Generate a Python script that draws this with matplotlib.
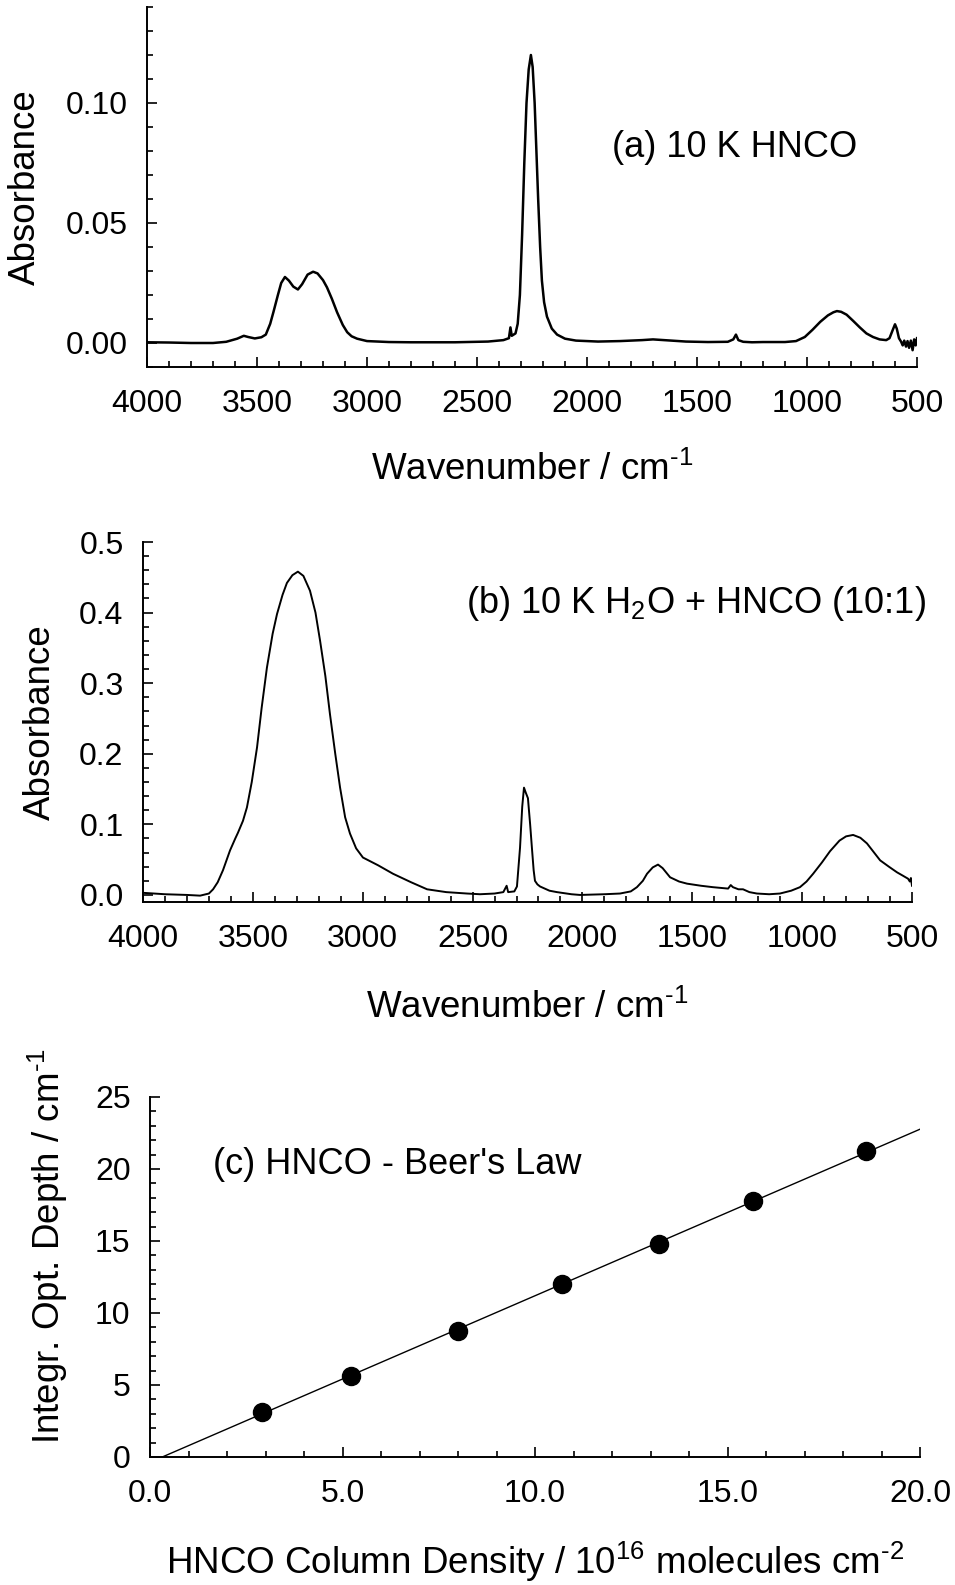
import numpy as np
import matplotlib
matplotlib.use("Agg")
import matplotlib.pyplot as plt
from matplotlib.ticker import MultipleLocator, FormatStrFormatter

plt.rcParams['font.family'] = ['Liberation Sans', 'DejaVu Sans']
plt.rcParams['mathtext.fontset'] = 'custom'
plt.rcParams['mathtext.rm'] = 'Liberation Sans'
plt.rcParams['mathtext.it'] = 'Liberation Sans:italic'

# (a) 10 K HNCO spectrum
wn_a = [4000, 3900, 3800, 3700, 3640, 3590, 3560, 3540, 3510, 3480, 3460, 3440,
        3425, 3405, 3390, 3373, 3355, 3335, 3314, 3295, 3270, 3245, 3225, 3200,
        3182, 3160, 3136, 3110, 3090, 3070, 3045, 3000, 2900, 2800, 2600, 2450,
        2380, 2355, 2348, 2342, 2325, 2315, 2305, 2295, 2285, 2275, 2265, 2255,
        2247, 2238, 2230, 2222, 2213, 2205, 2195, 2182, 2160, 2136, 2100, 2050,
        1950, 1850, 1750, 1700, 1650, 1550, 1450, 1360, 1335, 1323, 1312, 1290,
        1250, 1200, 1100, 1050, 1010, 975, 940, 905, 880, 864, 845, 820, 790,
        760, 730, 700, 670, 640, 625, 610, 600, 592, 582, 572, 565, 558, 550,
        543, 536, 528, 520, 513, 506, 500]
abs_a = [0.0003, 0.0002, 0.0, 0.0, 0.0005, 0.0018, 0.003, 0.0025, 0.0019, 0.0024,
         0.0035, 0.008, 0.013, 0.020, 0.025, 0.0275, 0.026, 0.0235, 0.0223, 0.0245,
         0.0285, 0.0297, 0.0290, 0.0262, 0.0232, 0.0185, 0.0128, 0.0075, 0.0045,
         0.0028, 0.0018, 0.0008, 0.0004, 0.0003, 0.0003, 0.0006, 0.0012, 0.002,
         0.0065, 0.003, 0.004, 0.008, 0.02, 0.045, 0.075, 0.100, 0.114, 0.120,
         0.115, 0.100, 0.080, 0.060, 0.040, 0.026, 0.017, 0.011, 0.006, 0.0035,
         0.0018, 0.001, 0.0006, 0.0008, 0.0012, 0.0015, 0.0012, 0.0006, 0.0004,
         0.0005, 0.0015, 0.0035, 0.0012, 0.0005, 0.0003, 0.0004, 0.0004, 0.0008,
         0.0025, 0.0055, 0.0088, 0.0115, 0.0128, 0.0133, 0.013, 0.0118, 0.0092,
         0.0065, 0.004, 0.0025, 0.0015, 0.0012, 0.002, 0.0055, 0.0078, 0.006,
         0.002, 0.0005, -0.001, 0.001, -0.0015, 0.0008, -0.002, 0.001, -0.003,
         0.0015, -0.001, 0.002]

# (b) 10 K H2O + HNCO (10:1)
wn_b = [4000, 3900, 3800, 3740, 3700, 3681, 3660, 3636, 3604, 3580, 3568, 3545,
        3527, 3505, 3481, 3460, 3436, 3410, 3390, 3365, 3345, 3320, 3295, 3270,
        3240, 3215, 3194, 3170, 3149, 3125, 3103, 3080, 3058, 3030, 2999, 2930,
        2862, 2780, 2707, 2620, 2525, 2466, 2400, 2360, 2345, 2338, 2310, 2298,
        2284, 2274, 2266, 2258, 2248, 2238, 2230, 2222, 2216, 2205, 2193, 2150,
        2116, 2050, 2011, 1900, 1829, 1780, 1752, 1725, 1706, 1680, 1656, 1635,
        1601, 1560, 1524, 1460, 1406, 1337, 1325, 1315, 1290, 1269, 1240, 1206,
        1150, 1101, 1050, 1010, 980, 950, 910, 873, 830, 800, 768, 735, 705, 675,
        645, 605, 568, 540, 518, 510, 505, 500]
abs_b = [0.003, 0.001, 0.0, -0.001, 0.002, 0.008, 0.018, 0.035, 0.063, 0.080,
         0.088, 0.105, 0.124, 0.160, 0.209, 0.265, 0.322, 0.370, 0.398, 0.425,
         0.442, 0.453, 0.458, 0.452, 0.431, 0.400, 0.360, 0.310, 0.256, 0.200,
         0.152, 0.110, 0.087, 0.066, 0.053, 0.042, 0.030, 0.018, 0.008, 0.004,
         0.002, 0.001, 0.002, 0.004, 0.013, 0.004, 0.005, 0.012, 0.067, 0.125,
         0.152, 0.145, 0.137, 0.100, 0.067, 0.035, 0.020, 0.015, 0.012, 0.006,
         0.004, 0.001, 0.0, 0.001, 0.002, 0.005, 0.011, 0.020, 0.030, 0.039,
         0.043, 0.038, 0.025, 0.019, 0.016, 0.013, 0.011, 0.009, 0.014, 0.011,
         0.008, 0.008, 0.004, 0.002, 0.001, 0.002, 0.006, 0.011, 0.019, 0.030,
         0.046, 0.062, 0.077, 0.083, 0.085, 0.081, 0.073, 0.061, 0.049, 0.040,
         0.032, 0.027, 0.023, 0.019, 0.024, 0.013]

# (c) Beer's law points
col_density = [2.92, 5.21, 8.01, 10.71, 13.22, 15.65, 18.61]
opt_depth = [3.15, 5.65, 8.72, 12.03, 14.82, 17.80, 21.22]

TICK = 23
LABEL = 26.5
NOTE = 26


def style(ax):
    for s in ['top', 'right']:
        ax.spines[s].set_visible(False)
    for s in ['left', 'bottom']:
        ax.spines[s].set_linewidth(1.4)
    ax.tick_params(which='both', direction='in', width=1.2, labelsize=TICK)
    ax.tick_params(which='major', length=7)
    ax.tick_params(which='minor', length=4.5)
    ax.tick_params(axis='x', pad=16)
    ax.tick_params(axis='y', pad=14)


fig = plt.figure(figsize=(9.55, 15.85), dpi=100)
W, H = 955.0, 1585.0


def add_axes(l, r, t, b):
    return fig.add_axes([l / W, 1 - b / H, (r - l) / W, (b - t) / H])


# panel a
ax1 = add_axes(147, 917, 7, 367)
ax1.plot(wn_a, abs_a, color='black', lw=1.8)
ax1.set_xlim(4000, 500)
ax1.set_ylim(-0.01, 0.14)
ax1.xaxis.set_major_locator(MultipleLocator(500))
ax1.xaxis.set_minor_locator(MultipleLocator(100))
ax1.yaxis.set_minor_locator(MultipleLocator(0.01))
ax1.yaxis.set_major_formatter(FormatStrFormatter('%.2f'))
ax1.set_yticks([0.0, 0.05, 0.10])
style(ax1)
ax1.set_xlabel(r'Wavenumber / cm$^{\text{-1}}$', fontsize=LABEL, va='center')
ax1.xaxis.set_label_coords(0.5, -0.286)
ax1.set_ylabel('Absorbance', fontsize=LABEL, va='center')
ax1.yaxis.set_label_coords(-0.158, 0.5)
ax1.text(0.604, 0.611, '(a) 10 K HNCO', transform=ax1.transAxes,
         fontsize=NOTE, va='center', ha='left')

# panel b
ax2 = add_axes(143, 912, 542, 902)
ax2.plot(wn_b, abs_b, color='black', lw=1.4)
ax2.set_xlim(4000, 500)
ax2.set_ylim(-0.01, 0.5)
ax2.xaxis.set_major_locator(MultipleLocator(500))
ax2.xaxis.set_minor_locator(MultipleLocator(100))
ax2.yaxis.set_major_locator(MultipleLocator(0.1))
ax2.yaxis.set_minor_locator(MultipleLocator(0.02))
ax2.yaxis.set_major_formatter(FormatStrFormatter('%.1f'))
style(ax2)
ax2.set_xlabel(r'Wavenumber / cm$^{\text{-1}}$', fontsize=LABEL, va='center')
ax2.xaxis.set_label_coords(0.5, -0.294)
ax2.set_ylabel('Absorbance', fontsize=LABEL, va='center')
ax2.yaxis.set_label_coords(-0.134, 0.5)
ax2.text(0.42, 0.828, r'(b) 10 K H$_{\text{2}}$O + HNCO (10:1)', transform=ax2.transAxes,
         fontsize=NOTE, va='center', ha='left', clip_on=False)

# panel c
ax3 = add_axes(150, 920, 1097, 1457)
slope, icpt = np.polyfit(col_density, opt_depth, 1)
xfit = np.array([0.0, 20.0])
ax3.plot(xfit, slope * xfit + icpt, color='black', lw=1.0)
ax3.plot(col_density, opt_depth, 'o', color='black', ms=13)
ax3.set_xlim(0, 20)
ax3.set_ylim(0, 25)
ax3.xaxis.set_major_locator(MultipleLocator(5))
ax3.xaxis.set_minor_locator(MultipleLocator(1))
ax3.xaxis.set_major_formatter(FormatStrFormatter('%.1f'))
ax3.yaxis.set_major_locator(MultipleLocator(5))
ax3.yaxis.set_minor_locator(MultipleLocator(1))
style(ax3)
ax3.set_xlabel(r'HNCO Column Density / 10$^{\text{16}}$ molecules cm$^{\text{-2}}$',
               fontsize=LABEL, va='center')
ax3.xaxis.set_label_coords(0.5, -0.292)
ax3.set_ylabel(r'Integr. Opt. Depth / cm$^{\text{-1}}$', fontsize=LABEL, va='center')
ax3.yaxis.set_label_coords(-0.132, 0.585)
ax3.text(0.082, 0.813, "(c) HNCO - Beer's Law", transform=ax3.transAxes,
         fontsize=NOTE, va='center', ha='left')

fig.savefig('out.png', dpi=100)
